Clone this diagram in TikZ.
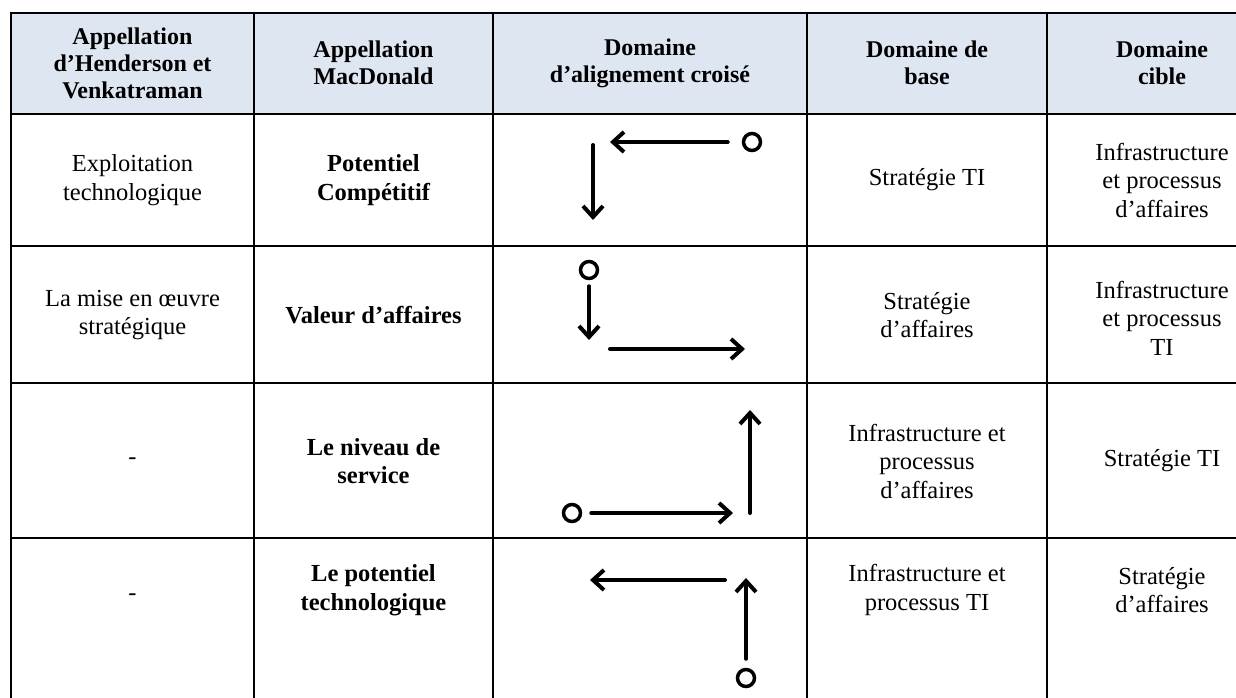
\documentclass[tikz,border=0pt]{standalone}
\usepackage{fontspec}
\setmainfont{Liberation Serif}
\usetikzlibrary{arrows.meta}
\definecolor{hdrblue}{RGB}{222,230,242}
\begin{document}
\begin{tikzpicture}[x=1pt,y=-1pt,
	cell/.style={align=center,inner sep=0pt,font=\fontsize{24.5}{28.5}\selectfont},
	bcell/.style={cell,font=\fontsize{24.5}{28.5}\selectfont\bfseries},
	hcell/.style={cell,font=\fontsize{24}{27}\selectfont\bfseries},
	rule/.style={line width=2.5pt},
	arr/.style={line width=4pt,line cap=round,line join=round,-{Straight Barb[length=11pt,width=20pt]}},
	dot/.style={circle,draw,line width=3.5pt,minimum size=17pt,inner sep=0pt}]
	\useasboundingbox (0,0) rectangle (1236,698);
	\begin{scope}
	\clip (0,0) rectangle (1236,698);
	\fill[hdrblue] (11,13) rectangle (1290,114);
	% table rules
	\draw[rule] (11,698) -- (11,13) -- (1290,13) -- (1290,698);
	\draw[rule] (11,114) -- (1290,114);
	\draw[rule] (11,246) -- (1290,246);
	\draw[rule] (11,383) -- (1290,383);
	\draw[rule] (11,538) -- (1290,538);
	\draw[rule] (254,13) -- (254,698);
	\draw[rule] (493,13) -- (493,698);
	\draw[rule] (807,13) -- (807,698);
	\draw[rule] (1047,13) -- (1047,698);
	\end{scope}
	% header
	\node[hcell] (h1) at (132.5,63) {Appellation\\d’Henderson et\\Venkatraman};
	\node[hcell] (h2) at (373.5,63) {Appellation\\MacDonald};
	\node[hcell] (h3) at (650,63) {Domaine\\d’alignement croisé};
	\node[hcell] (h4) at (927,63) {Domaine de\\base};
	\node[hcell] (h5) at (1162,63) {Domaine\\cible};
	% row 1
	\node[cell] (t11) at (132.5,180) {Exploitation\\technologique};
	\node[bcell] (t12) at (373.5,180) {Potentiel\\Compétitif};
	\node[cell] (t14) at (927,180) {Stratégie TI};
	\node[cell] (t15) at (1162,180) {Infrastructure\\et processus\\d’affaires};
	\node[dot] (s1) at (752,142) {};
	\coordinate (b1) at (610,142);
	\coordinate (c1) at (593,145);
	\coordinate (d1) at (593,220);
	\draw[arr,shorten <=14pt] (s1) -- (b1);
	\draw[arr] (c1) -- (d1);
	% row 2
	\node[cell] (t21) at (132.5,315) {La mise en œuvre\\stratégique};
	\node[bcell] (t22) at (373.5,315) {Valeur d’affaires};
	\node[cell] (t24) at (927,315) {Stratégie\\d’affaires};
	\node[cell] (t25) at (1162,318) {Infrastructure\\et processus\\TI};
	\node[dot] (s2) at (589,270) {};
	\coordinate (d2) at (589,340);
	\coordinate (a2) at (610,349);
	\coordinate (b2) at (745,349);
	\draw[arr,shorten <=6pt] (s2) -- (d2);
	\draw[arr] (a2) -- (b2);
	% row 3
	\node[cell] (t31) at (132.5,461) {-};
	\node[bcell] (t32) at (373.5,461) {Le niveau de\\service};
	\node[cell] (t34) at (927,461) {Infrastructure et\\processus\\d’affaires};
	\node[cell] (t35) at (1162,461) {Stratégie TI};
	\node[dot] (s3) at (572,513) {};
	\coordinate (b3) at (733,513);
	\coordinate (c3) at (750,513);
	\coordinate (d3) at (750,410);
	\draw[arr,shorten <=9pt] (s3) -- (b3);
	\draw[arr] (c3) -- (d3);
	% row 4
	\node[cell] (t41) at (132.5,597) {-};
	\node[bcell] (t42) at (373.5,590) {Le potentiel\\technologique};
	\node[cell] (t44) at (927,590) {Infrastructure et\\processus TI};
	\node[cell] (t45) at (1162,590) {Stratégie\\d’affaires};
	\node[dot] (s4) at (746,678) {};
	\coordinate (d4) at (746,578);
	\coordinate (a4) at (725,580);
	\coordinate (b4) at (590,580);
	\draw[arr,shorten <=9pt] (s4) -- (d4);
	\draw[arr] (a4) -- (b4);
\end{tikzpicture}
\end{document}
